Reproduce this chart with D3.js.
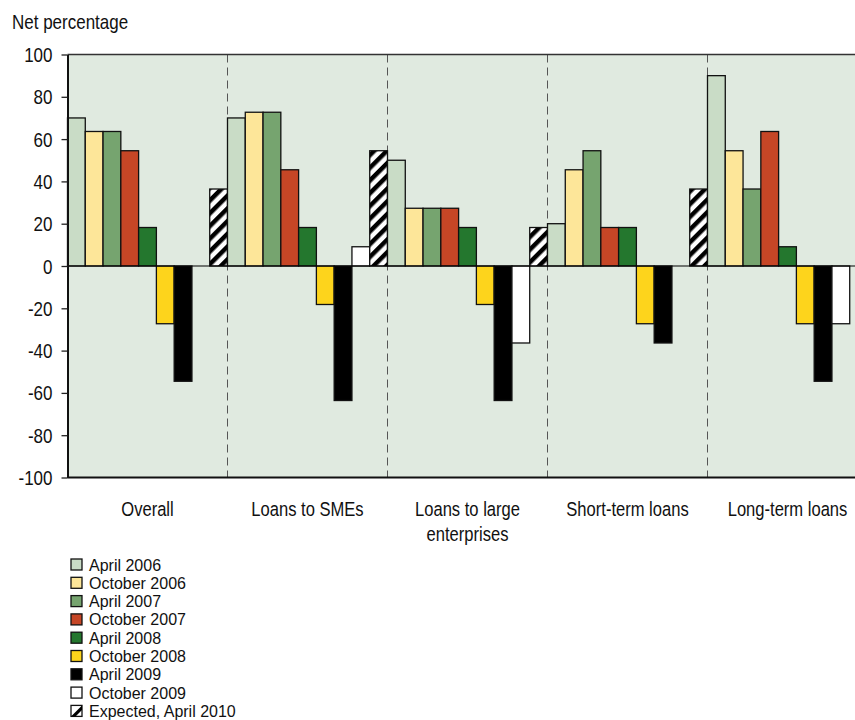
<!DOCTYPE html>
<html>
<head>
<meta charset="utf-8">
<script src="https://cdn.jsdelivr.net/npm/d3@7"></script>
<style>
  html, body { margin: 0; padding: 0; background: #fff; }
  svg { display: block; }
  text { font-family: "Liberation Sans", Arial, sans-serif; fill: #111; }
</style>
</head>
<body>
<svg id="chart" width="855" height="720"></svg>
<script>
// Survey categories (a "\n" breaks the axis label onto a second line)
const categories = ["Overall", "Loans to SMEs", "Loans to large\nenterprises", "Short-term loans", "Long-term loans"];

// Net percentages per survey round, in category order
const apr2006 = [70, 70, 50, 20, 90];
const oct2006 = [63.6, 72.7, 27.3, 45.5, 54.5];
const apr2007 = [63.6, 72.7, 27.3, 54.5, 36.4];
const oct2007 = [54.5, 45.5, 27.3, 18.2, 63.6];
const apr2008 = [18.2, 18.2, 18.2, 18.2, 9.1];
const oct2008 = [-27.3, -18.2, -18.2, -27.3, -27.3];
const apr2009 = [-54.5, -63.6, -63.6, -36.4, -54.5];
const oct2009 = [0, 9.1, -36.4, 0, -27.3];
const exp2010 = [36.4, 54.5, 18.2, 36.4, null];

const seriesNames = ["April 2006", "October 2006", "April 2007", "October 2007", "April 2008",
                     "October 2008", "April 2009", "October 2009", "Expected, April 2010"];
const seriesValues = [apr2006, oct2006, apr2007, oct2007, apr2008, oct2008, apr2009, oct2009, exp2010];
const seriesFills = ["#c9dcc6", "#fde699", "#76a46f", "#c64626", "#24772e",
                     "#fdd41c", "#000000", "#ffffff", "url(#hatch)"];

const yTicks = [-100, -80, -60, -40, -20, 0, 20, 40, 60, 80, 100];

const svg = d3.select("#chart");
const plotLeft = 67.5, plotRight = 867.5, plotTop = 54.5, plotBottom = 477.5;
const sx = 0.85; // horizontal squeeze applied to axis text

// Diagonal hatch for the expected values
const defs = svg.append("defs");
const pat = defs.append("pattern")
  .attr("id", "hatch").attr("patternUnits", "userSpaceOnUse")
  .attr("width", 9).attr("height", 9)
  .attr("patternTransform", "rotate(45)");
pat.append("rect").attr("width", 9).attr("height", 9).attr("fill", "#fff");
pat.append("rect").attr("width", 4.5).attr("height", 9).attr("fill", "#000");

const x0 = d3.scaleBand().domain(categories).range([plotLeft, plotRight]).padding(0);
const x1 = d3.scaleBand().domain(seriesNames).range([0, x0.bandwidth()]).padding(0);
const y = d3.scaleLinear().domain([-100, 100]).range([plotBottom, plotTop]);

// Plot background
svg.append("rect")
  .attr("x", plotLeft).attr("y", plotTop)
  .attr("width", plotRight - plotLeft).attr("height", plotBottom - plotTop)
  .attr("fill", "#e0eae0");

// Dashed separators between categories
svg.append("g").selectAll("line")
  .data(categories.slice(1))
  .join("line")
  .attr("x1", d => x0(d)).attr("x2", d => x0(d))
  .attr("y1", plotTop).attr("y2", plotBottom)
  .attr("stroke", "#555").attr("stroke-width", 1)
  .attr("stroke-dasharray", "8,5");

// Bars
const barData = [];
categories.forEach((c, ci) => {
  seriesNames.forEach((s, si) => {
    const v = seriesValues[si][ci];
    if (v !== null) barData.push({ c, s, v, fill: seriesFills[si] });
  });
});
svg.append("g").selectAll("rect")
  .data(barData)
  .join("rect")
  .attr("x", d => x0(d.c) + x1(d.s))
  .attr("y", d => y(Math.max(0, d.v)))
  .attr("width", x1.bandwidth())
  .attr("height", d => Math.abs(y(d.v) - y(0)))
  .attr("fill", d => d.fill)
  .attr("stroke", "#111").attr("stroke-width", 1.3);

// Zero line
svg.append("line")
  .attr("x1", plotLeft).attr("x2", plotRight)
  .attr("y1", y(0)).attr("y2", y(0))
  .attr("stroke", "#000").attr("stroke-width", 1.2);

// Frame: top and bottom
svg.append("line").attr("x1", plotLeft).attr("x2", plotRight).attr("y1", plotTop).attr("y2", plotTop)
  .attr("stroke", "#333").attr("stroke-width", 1.3);
svg.append("line").attr("x1", plotLeft).attr("x2", plotRight).attr("y1", plotBottom).attr("y2", plotBottom)
  .attr("stroke", "#111").attr("stroke-width", 2);

// Y axis (plain hyphen for negatives)
const yAxis = svg.append("g")
  .attr("transform", `translate(${plotLeft},0)`)
  .call(d3.axisLeft(y).tickValues(yTicks).tickFormat(d => String(d)).tickSize(6).tickSizeOuter(0));
yAxis.select(".domain").attr("stroke", "#111").attr("stroke-width", 2);
yAxis.selectAll(".tick line").attr("stroke", "#222").attr("stroke-width", 1.3);
yAxis.selectAll(".tick text")
  .attr("x", 0).attr("dy", "0.35em")
  .attr("transform", `translate(-15,0) scale(${sx},1)`)
  .style("font-family", "'Liberation Sans', Arial, sans-serif")
  .style("font-size", "20px").attr("fill", "#111");

// Axis title
svg.append("text")
  .attr("transform", `translate(12,29) scale(${sx},1)`)
  .style("font-size", "20px")
  .text("Net percentage");

// Category labels
const catG = svg.append("g");
categories.forEach(c => {
  const lines = c.split("\n");
  const cx = x0(c) + x0.bandwidth() / 2;
  lines.forEach((ln, i) => {
    catG.append("text")
      .attr("transform", `translate(${cx},${515.5 + i * 25.5}) scale(${sx},1)`)
      .attr("text-anchor", "middle")
      .style("font-size", "19.5px")
      .text(ln);
  });
});

// Legend
const lg = svg.append("g");
seriesNames.forEach((s, i) => {
  const ly = 570.5 + i * 18.3;
  if (i === seriesNames.length - 1) {
    lg.append("rect").attr("x", 71).attr("y", ly - 11.5).attr("width", 11).attr("height", 11)
      .attr("fill", "#fff").attr("stroke", "#111").attr("stroke-width", 1.3);
    lg.append("path")
      .attr("d", `M71,${ly - 0.5} L82,${ly - 11.5} L82,${ly - 7} L75.5,${ly - 0.5} Z`)
      .attr("fill", "#000");
  } else {
    lg.append("rect").attr("x", 71).attr("y", ly - 11.5).attr("width", 11).attr("height", 11)
      .attr("fill", seriesFills[i]).attr("stroke", "#111").attr("stroke-width", 1.3);
  }
  lg.append("text")
    .attr("transform", `translate(89,${ly})`)
    .style("font-size", "16px")
    .text(s);
});
</script>
</body>
</html>
